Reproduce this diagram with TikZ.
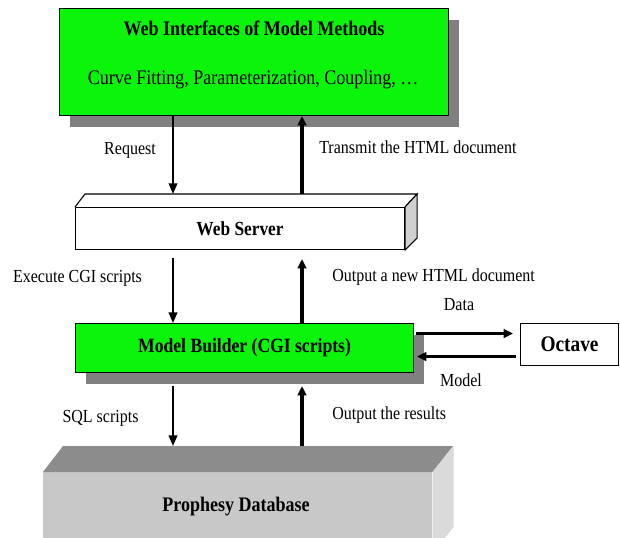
\documentclass[tikz,border=0pt]{standalone}
\usepackage{fontspec}
\setmainfont{Liberation Serif}
\usetikzlibrary{arrows.meta,calc,shadows}

\definecolor{boxgreen}{RGB}{10,245,10}
\definecolor{shade}{RGB}{128,128,128}
\definecolor{wsside}{RGB}{208,208,208}
\definecolor{dbtop}{RGB}{140,140,140}
\definecolor{dbfront}{RGB}{200,200,200}
\definecolor{dbside}{RGB}{218,218,218}

% slightly tall lettering
\newcommand\tallx[1]{\scalebox{1}[1.15]{#1}}

\begin{document}
\begin{tikzpicture}[x=0.75pt,y=-0.75pt,
  boxbase/.style={draw=black, line width=0.8pt, inner sep=0pt, anchor=north west},
  greenbox/.style={boxbase, fill=boxgreen,
    general shadow={fill=shade, shadow xshift=7.5pt, shadow yshift=-8.25pt}},
  whitebox/.style={boxbase, fill=white},
  ttl/.style={inner sep=0pt, font=\bfseries\fontsize{13.5}{16}\selectfont},
  lbl/.style={inner sep=0pt, font=\fontsize{12}{14}\selectfont},
  thinarrow/.style={line width=1.3pt, -{Triangle[length=8pt,width=6.5pt]}},
  thickarrow/.style={line width=2.3pt, -{Triangle[length=7pt,width=6.5pt]}}]

\useasboundingbox (0,0) rectangle (620,538);
\clip (0,0) rectangle (620,538);
\fill[white] (0,0) rectangle (620,538);

% two vertical lanes for the up and down connectors
\coordinate (laneA) at (173,0);
\coordinate (laneB) at (302,0);

% ---- web interfaces -------------------------------------------------
\node[greenbox, minimum width=389*0.75pt, minimum height=107*0.75pt] (iface) at (59,8) {};
\node[ttl] (ifaceTitle) at (254,28) {\tallx{Web Interfaces of Model Methods}};
\node[lbl, font=\fontsize{13.5}{16}\selectfont] (ifaceMethods) at (253,80)
  {\tallx{Curve Fitting, Parameterization, Coupling, …}};

% ---- web server (box with top and side faces) ------------------------
\node[whitebox, minimum width=329*0.75pt, minimum height=42*0.75pt,
      font=\bfseries\fontsize{13}{16}\selectfont] (server) at (75,207) {\tallx{Web Server}};
\draw[line width=0.8pt, fill=white] (server.north west) -- ++(10,-13)
  -- ($(server.north east)+(12,-13)$) -- (server.north east);
\draw[line width=0.8pt, fill=wsside] (server.north east) -- ++(12,-13) -- ++(0,44)
  -- (server.south east) -- cycle;
\coordinate (serverRoof) at ($(server.north)+(0,-13)$);

% ---- model builder and octave ----------------------------------------
\node[greenbox, minimum width=338*0.75pt, minimum height=49*0.75pt,
      font=\bfseries\fontsize{13.2}{16}\selectfont] (builder) at (75,323)
  {\tallx{Model Builder (CGI scripts)}};
\node[whitebox, minimum width=98*0.75pt, minimum height=42*0.75pt,
      font=\bfseries\fontsize{14.5}{16}\selectfont] (octave) at (520,323) {\tallx{Octave}};

% ---- database slab ----------------------------------------------------
\node[anchor=north west, inner sep=0pt, fill=dbfront,
      minimum width=389*0.75pt, minimum height=81*0.75pt] (db) at (43,472) {};
\fill[dbtop] (db.north west) -- ++(20,-26) -- ++(390,0) -- (db.north east) -- cycle;
\fill[dbside] (db.north east) -- ++(21,-26) -- ++(0,81) -- (db.south east) -- cycle;
\coordinate (dbRoof) at ($(db.north)+(0,-26)$);
\node[ttl] (dbLabel) at (236,507) {\tallx{Prophesy Database}};

% ---- connectors ---------------------------------------------------------
\draw[thinarrow]  (iface.south -| laneA) -- (serverRoof -| laneA);
\draw[thickarrow] (serverRoof -| laneB) -- (iface.south -| laneB);
\draw[thinarrow]  ($(server.south -| laneA)+(0,8)$) -- (builder.north -| laneA);
\draw[thickarrow] (builder.north -| laneB) -- ($(server.south -| laneB)+(0,9)$);
\draw[thinarrow]  ($(builder.south -| laneA)+(0,13)$) -- (dbRoof -| laneA);
\draw[thickarrow] (dbRoof -| laneB) -- ($(builder.south -| laneB)+(0,13)$);
\draw[thickarrow] ($(builder.east)+(2,-14.5)$) -- ($(octave.west)+(-7,-11)$);
\draw[thickarrow] ($(octave.west)+(-4,12)$) -- ($(builder.east)+(3,8.5)$);

% ---- connector labels --------------------------------------------------
\node[lbl] (lblRequest) at (130,150) {\tallx{Request}};
\node[lbl, anchor=west] (lblTransmit) at (319,147) {\tallx{Transmit the HTML document}};
\node[lbl] (lblExecute) at (77.5,278) {\tallx{Execute CGI scripts}};
\node[lbl, anchor=west] (lblNewDoc) at (332,277) {\tallx{Output a new HTML document}};
\node[lbl] (lblData) at (459,305) {\tallx{Data}};
\node[lbl] (lblModel) at (461,380) {\tallx{Model}};
\node[lbl] (lblSQL) at (100.5,418) {\tallx{SQL scripts}};
\node[lbl, anchor=west] (lblResults) at (332,415) {\tallx{Output the results}};
\end{tikzpicture}
\end{document}
